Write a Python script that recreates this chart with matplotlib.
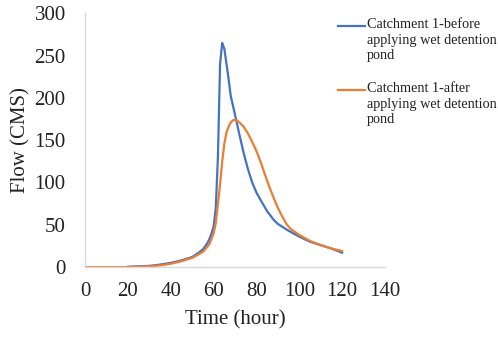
import matplotlib
matplotlib.use("Agg")
import matplotlib.pyplot as plt
from matplotlib.lines import Line2D

# hydrograph, catchment 1
t_before = [20, 25, 30, 35, 40, 45, 50, 53, 55, 57, 58, 59, 60, 61, 62, 63, 64, 65,
            66, 67, 68, 70, 72, 74, 76, 78, 80, 82, 85, 88, 90, 95, 100, 105, 110,
            115, 120]
q_before = [0.5, 1, 1.5, 3, 5, 8, 12, 17, 21, 28, 33, 40, 48, 70, 130, 240, 265, 258,
            240, 222, 202, 180, 157, 135, 116, 100, 88, 79, 66, 56, 51, 43, 36, 30, 26,
            22, 17]

t_after = [0, 10, 20, 30, 35, 40, 45, 50, 55, 58, 60, 61, 62, 63, 64, 65, 66, 67, 68,
           69, 70, 71, 72, 74, 76, 78, 80, 82, 84, 86, 88, 90, 92, 94, 96, 100, 105,
           110, 115, 120]
q_after = [0, 0, 0, 1, 2, 4, 7, 11, 18, 27, 40, 52, 75, 98, 125, 146, 159, 166, 171,
           173.5, 174, 173, 171, 166, 158, 148, 137, 124, 109, 95, 82, 70, 60, 51, 45,
           38, 31, 26, 22, 19]

labels = ["Catchment 1-before\napplying wet detention\npond",
          "Catchment 1-after\napplying wet detention\npond"]
colors = ["#4472C4", "#ED7D31"]

plt.rcParams["font.family"] = ["Liberation Serif", "DejaVu Serif"]

fig = plt.figure(figsize=(4.98, 3.39), dpi=100)
ax = fig.add_axes([0.171, 0.212, 0.602, 0.749])

ax.plot(t_before, q_before, color=colors[0], lw=1.6)
ax.plot(t_after, q_after, color=colors[1], lw=1.6)

ax.set_xlim(0, 140)
ax.set_ylim(0, 300)
ax.set_xticks(range(0, 141, 20))
ax.set_yticks(range(0, 301, 50))
ax.tick_params(length=0, labelsize=15, colors="#222222")
ax.tick_params(axis="x", pad=11)
ax.tick_params(axis="y", pad=14)
for s in ["top", "right"]:
    ax.spines[s].set_visible(False)
for s in ["left", "bottom"]:
    ax.spines[s].set_color("#d9d9d9")
    ax.spines[s].set_linewidth(1.0)

ax.set_xlabel("Time (hour)", fontsize=15, color="#222222", labelpad=6)
ax.set_ylabel("Flow (CMS)", fontsize=15, color="#222222", labelpad=3)

# legend drawn by hand so each line sits beside the first text row
W, H = 498, 339
for i, (lab, c) in enumerate(zip(labels, colors)):
    y = 26 + i * 64
    fig.add_artist(Line2D([338 / W, 365 / W], [1 - y / H] * 2, color=c, lw=1.6,
                          transform=fig.transFigure))
    fig.text(367 / W, 1 - (y - 7.5) / H, lab, fontsize=10.3, va="top", ha="left",
             color="#222222", linespacing=1.22)

fig.savefig("out.png", dpi=100)
